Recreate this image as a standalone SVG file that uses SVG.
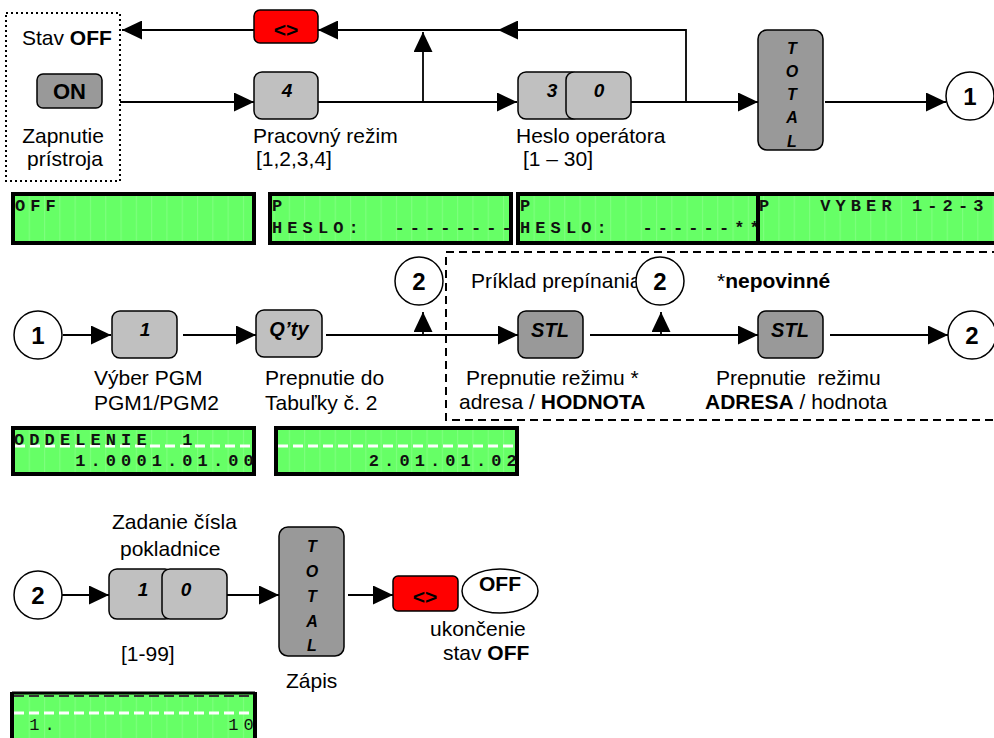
<svg xmlns="http://www.w3.org/2000/svg" width="994" height="738" viewBox="0 0 994 738">
<style>
.lbl{font-family:"Liberation Sans",Arial,sans-serif;font-size:21px;fill:#000;white-space:pre}
.b{font-weight:bold}
.key{font-family:"Liberation Sans",Arial,sans-serif;font-size:19px;font-weight:bold;font-style:italic;text-anchor:middle;fill:#000}
.tot{font-family:"Liberation Sans",Arial,sans-serif;font-size:16px;font-weight:bold;font-style:italic;text-anchor:middle;fill:#000}
.num{font-family:"Liberation Sans",Arial,sans-serif;font-size:24px;font-weight:bold;text-anchor:middle;fill:#000}
.lcdt{font-family:"Liberation Mono","Courier New",monospace;font-size:17px;font-weight:bold;letter-spacing:5.1px;white-space:pre;fill:#111}
.lcdr{font-weight:normal}
.lcd{fill:#66ff66;stroke:#000;stroke-width:4}
.grid{stroke:#9cff9c;stroke-width:1}
.lt{fill:#c0c0c0;stroke:#000;stroke-width:1.5}
.dk{fill:#999999;stroke:#000;stroke-width:1.5}
.red{fill:#ff0000;stroke:#000;stroke-width:1.5}
.circ{fill:#fff;stroke:#000;stroke-width:1.5}
.conn{stroke:#000;stroke-width:1.8;fill:none}
.wd{stroke:#fff;stroke-width:3;stroke-dasharray:10 5}
</style>
<defs>
<marker id="ah" markerUnits="userSpaceOnUse" markerWidth="20" markerHeight="19" refX="20" refY="9.5" orient="auto">
<path d="M0,0 L20,9.5 L0,19 z" fill="#000"/>
</marker>
<pattern id="lcdgrid" patternUnits="userSpaceOnUse" x="0" y="0" width="15.3" height="100">
<line x1="14" y1="0" x2="14" y2="100" class="grid"/>
</pattern>
</defs>
<rect width="994" height="738" fill="#fff"/>

<!-- connectors -->
<g id="connectors">
<line class="conn" x1="120" y1="102" x2="254" y2="102" marker-end="url(#ah)"/>
<line class="conn" x1="318" y1="102" x2="517" y2="102" marker-end="url(#ah)"/>
<line class="conn" x1="423" y1="102" x2="423" y2="32" marker-end="url(#ah)"/>
<line class="conn" x1="631" y1="102" x2="758" y2="102" marker-end="url(#ah)"/>
<polyline class="conn" points="686,102 686,30 498,30" marker-end="url(#ah)"/>
<line class="conn" x1="500" y1="30" x2="318" y2="30" marker-end="url(#ah)"/>
<line class="conn" x1="254" y1="30" x2="122" y2="30" marker-end="url(#ah)"/>
<line class="conn" x1="825" y1="102" x2="946" y2="102" marker-end="url(#ah)"/>

<line class="conn" x1="63" y1="335" x2="111" y2="335" marker-end="url(#ah)"/>
<line class="conn" x1="183" y1="335" x2="256" y2="335" marker-end="url(#ah)"/>
<line class="conn" x1="326" y1="335" x2="518" y2="335" marker-end="url(#ah)"/>
<line class="conn" x1="423" y1="336" x2="423" y2="312" marker-end="url(#ah)"/>
<line class="conn" x1="590" y1="335" x2="758" y2="335" marker-end="url(#ah)"/>
<line class="conn" x1="661" y1="336" x2="661" y2="312" marker-end="url(#ah)"/>
<line class="conn" x1="830" y1="335" x2="948" y2="335" marker-end="url(#ah)"/>

<line class="conn" x1="62" y1="595" x2="109" y2="595" marker-end="url(#ah)"/>
<line class="conn" x1="227" y1="595" x2="279" y2="595" marker-end="url(#ah)"/>
<line class="conn" x1="348" y1="595" x2="393" y2="595" marker-end="url(#ah)"/>
</g>

<!-- row 1 -->
<g id="start">
<rect x="6" y="13" width="114" height="168" fill="none" stroke="#000" stroke-width="2" stroke-dasharray="2 3"/>
<text class="lbl" x="22" y="45">Stav <tspan class="b">OFF</tspan></text>
<rect class="dk" x="37" y="74" width="65" height="34" rx="6"/>
<text class="lbl b" x="69.5" y="99" text-anchor="middle" style="font-size:22px">ON</text>
<text class="lbl" x="63" y="143" text-anchor="middle">Zapnutie</text>
<text class="lbl" x="65" y="166" text-anchor="middle">prístroja</text>
</g>
<g id="escape1">
<rect class="red" x="254" y="10" width="64" height="33" rx="6"/>
<text class="lbl b" x="286" y="37" text-anchor="middle">&lt;&gt;</text>
</g>
<g id="mode">
<rect class="lt" x="254" y="72" width="64" height="47" rx="8"/>
<text class="key" x="287" y="97">4</text>
<text class="lbl" x="253" y="143">Pracovný režim</text>
<text class="lbl" x="256" y="166">[1,2,3,4]</text>
</g>
<g id="password">
<rect class="lt" x="518" y="72" width="62" height="47" rx="8"/>
<rect class="lt" x="566" y="72" width="65" height="47" rx="8"/>
<text class="key" x="552" y="97">3</text>
<text class="key" x="599" y="97">0</text>
<text class="lbl" x="516" y="143">Heslo operátora</text>
<text class="lbl" x="523" y="166">[1 – 30]</text>
</g>
<g id="total1">
<rect class="dk" x="758" y="30" width="65" height="120" rx="9"/>
<text class="tot" x="792" y="54">T</text>
<text class="tot" x="792" y="77">O</text>
<text class="tot" x="792" y="100">T</text>
<text class="tot" x="792" y="123">A</text>
<text class="tot" x="792" y="147">L</text>
</g>
<g id="c1out">
<circle class="circ" cx="970" cy="96" r="24"/>
<text class="num" x="970" y="105">1</text>
</g>

<!-- LCD row 1 -->
<g id="lcd1">
<rect class="lcd" x="13" y="194" width="241" height="49"/>
<rect x="15" y="196" width="237" height="45" fill="url(#lcdgrid)" opacity="0.5"/>
<text class="lcdt" x="15" y="211">OFF</text>
</g>
<g id="lcd2">
<rect class="lcd" x="270" y="194" width="241" height="49"/>
<rect x="272" y="196" width="237" height="45" fill="url(#lcdgrid)" opacity="0.5"/>
<text class="lcdt" x="272" y="211">P</text>
<text class="lcdt" x="272" y="233">HESLO:  --------</text>
</g>
<g id="lcd3">
<rect class="lcd" x="518" y="194" width="240" height="49"/>
<rect x="520" y="196" width="236" height="45" fill="url(#lcdgrid)" opacity="0.5"/>
<text class="lcdt" x="520" y="211">P</text>
<text class="lcdt" x="520" y="233">HESLO:  ------**</text>
</g>
<g id="lcd4">
<rect class="lcd" x="758" y="194" width="245" height="49"/>
<rect x="760" y="196" width="240" height="45" fill="url(#lcdgrid)" opacity="0.5"/>
<text class="lcdt" x="759" y="211">P   VYBER 1-2-3</text>
</g>

<!-- row 2 -->
<g id="optional-box">
<rect x="446" y="252" width="560" height="168" fill="none" stroke="#000" stroke-width="2" stroke-dasharray="8 5"/>
<text class="lbl" x="471" y="288">Príklad prepínania</text>
<text class="lbl" x="717" y="288">*<tspan class="b">nepovinné</tspan></text>
</g>
<g id="c1in">
<circle class="circ" cx="38" cy="335" r="24"/>
<text class="num" x="38" y="344">1</text>
</g>
<g id="pgm">
<rect class="lt" x="112" y="311" width="65" height="47" rx="8"/>
<text class="key" x="145" y="336">1</text>
<text class="lbl" x="94" y="385">Výber PGM</text>
<text class="lbl" x="94" y="410">PGM1/PGM2</text>
</g>
<g id="qty">
<rect class="lt" x="256" y="310" width="66" height="47" rx="8"/>
<text class="key" x="289" y="336" style="font-size:20px">Q’ty</text>
<text class="lbl" x="265" y="385">Prepnutie do</text>
<text class="lbl" x="265" y="410">Tabuľky č. 2</text>
</g>
<g id="c2a">
<circle class="circ" cx="419" cy="281" r="24"/>
<text class="num" x="419" y="290">2</text>
</g>
<g id="c2b">
<circle class="circ" cx="660" cy="281" r="24"/>
<text class="num" x="660" y="290">2</text>
</g>
<g id="stl1">
<rect class="dk" x="518" y="311" width="65" height="47" rx="8"/>
<text class="key" x="550" y="337" style="font-size:20px">STL</text>
<text class="lbl" x="466" y="385">Prepnutie režimu *</text>
<text class="lbl" x="459" y="409">adresa / <tspan class="b">HODNOTA</tspan></text>
</g>
<g id="stl2">
<rect class="dk" x="758" y="311" width="65" height="47" rx="8"/>
<text class="key" x="790" y="337" style="font-size:20px">STL</text>
<text class="lbl" x="716" y="385">Prepnutie  režimu</text>
<text class="lbl" x="705" y="409"><tspan class="b">ADRESA</tspan> / hodnota</text>
</g>
<g id="c2out">
<circle class="circ" cx="972" cy="335" r="24"/>
<text class="num" x="972" y="344">2</text>
</g>

<!-- LCD row 2 -->
<g id="lcd5">
<rect class="lcd" x="13" y="428" width="241" height="46"/>
<rect x="15" y="430" width="237" height="42" fill="url(#lcdgrid)" opacity="0.5"/>
<line class="wd" x1="15" y1="446" x2="252" y2="446"/>
<text class="lcdt" x="14" y="445">ODDELENIE  1</text>
<text class="lcdt" x="14" y="466">    1.0001.01.00</text>
</g>
<g id="lcd6">
<rect class="lcd" x="276" y="428" width="241" height="46"/>
<rect x="278" y="430" width="237" height="42" fill="url(#lcdgrid)" opacity="0.5"/>
<line class="wd" x1="278" y1="446" x2="515" y2="446"/>
<text class="lcdt" x="277" y="466">      2.01.01.02</text>
</g>

<!-- row 3 -->
<g id="c2in">
<circle class="circ" cx="38" cy="595" r="24"/>
<text class="num" x="38" y="604">2</text>
</g>
<g id="register">
<rect class="lt" x="109" y="569" width="64" height="50" rx="8"/>
<rect class="lt" x="162" y="569" width="65" height="50" rx="8"/>
<text class="key" x="143" y="596">1</text>
<text class="key" x="186" y="596">0</text>
<text class="lbl" x="112" y="529">Zadanie čísla</text>
<text class="lbl" x="120" y="556">pokladnice</text>
<text class="lbl" x="121" y="661">[1-99]</text>
</g>
<g id="total2">
<rect class="dk" x="279" y="527" width="65" height="129" rx="9"/>
<text class="tot" x="312" y="552">T</text>
<text class="tot" x="312" y="577">O</text>
<text class="tot" x="312" y="602">T</text>
<text class="tot" x="312" y="627">A</text>
<text class="tot" x="312" y="651">L</text>
<text class="lbl" x="286" y="688">Zápis</text>
</g>
<g id="escape2">
<rect class="red" x="393" y="576" width="65" height="35" rx="5"/>
<text class="lbl b" x="425" y="604" text-anchor="middle">&lt;&gt;</text>
</g>
<g id="off">
<ellipse class="circ" cx="500" cy="591" rx="38" ry="22"/>
<text class="lbl b" x="500" y="591" text-anchor="middle">OFF</text>
<text class="lbl" x="430" y="636">ukončenie</text>
<text class="lbl" x="443" y="660">stav <tspan class="b">OFF</tspan></text>
</g>

<!-- LCD row 3 -->
<g id="lcd7">
<rect x="12" y="692" width="243" height="50" fill="#66ff66"/>
<rect x="14" y="694" width="239" height="44" fill="url(#lcdgrid)" opacity="0.5"/>
<line x1="12" y1="693" x2="255" y2="693" stroke="#000" stroke-width="3"/>
<line x1="12" y1="692" x2="12" y2="738" stroke="#000" stroke-width="4"/>
<line x1="255" y1="692" x2="255" y2="738" stroke="#000" stroke-width="4"/>
<line x1="14" y1="696" x2="253" y2="696" stroke="#333" stroke-width="2" stroke-dasharray="10 5"/>
<line class="wd" x1="14" y1="713" x2="253" y2="713"/>
<text class="lcdt lcdr" x="14" y="730"> 1.           10</text>
</g>
</svg>
